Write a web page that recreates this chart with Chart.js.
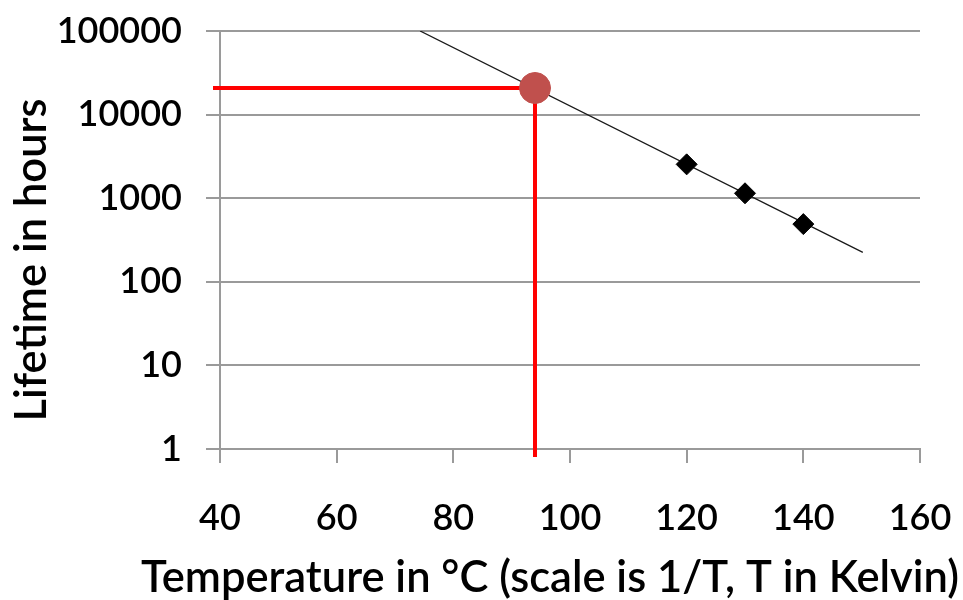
<!DOCTYPE html>
<html>
<head>
<meta charset="utf-8">
<script src="https://cdn.jsdelivr.net/npm/chart.js@4"></script>
<style>
  html, body { margin: 0; padding: 0; background: #fff; }
  #wrap { width: 963px; height: 600px; }
</style>
</head>
<body>
<div id="wrap"><canvas id="lifeChart" width="963" height="600"></canvas></div>
<script>
// ---- data ----
const tempTicks = [40, 60, 80, 100, 120, 140, 160];
const lifeTicks = [1, 10, 100, 1000, 10000, 100000];

// measured points (°C, hours)
const testTemps = [120, 130, 140];
const testHours = [2540, 1145, 490];

// fitted Arrhenius line, end points
const fitTemps = [74.3, 150.2];
const fitHours = [100000, 225];

// operating point and the red guide lines to the axes
const opTemp = [94];
const opHours = [20800];
const guideLeftTemp = 38.8;
const guideBottomHours = 0.8;

const xTitle = 'Temperature in °C (scale is 1/T, T in Kelvin)';
const yTitle = 'Lifetime in hours';

const FONT = 'Lato, "Open Sans", sans-serif';
const WEIGHT = '600';
const GRID = '#9a9a9a';

const toXY = (xs, ys) => xs.map((x, i) => ({ x: x, y: ys[i] }));

// stop the scales from pushing the plot area in for their labels
const noScalePad = s => {
    s.paddingTop = 0;
    s.paddingBottom = 0;
    s.paddingLeft = 0;
    s.paddingRight = 0;
};

// axis titles drawn by hand so they sit where the original has them
const axisTitles = {
    id: 'axisTitles',
    afterDraw(chart) {
        const ctx = chart.ctx;
        const a = chart.chartArea;
        ctx.save();
        ctx.fillStyle = '#000';
        ctx.font = WEIGHT + ' 43.5px ' + FONT;
        ctx.textAlign = 'center';
        ctx.textBaseline = 'middle';
        ctx.fillText(xTitle, (a.left + a.right) / 2 - 20, 578);
        ctx.translate(32, (a.top + a.bottom) / 2 + 20);
        ctx.rotate(-Math.PI / 2);
        ctx.fillText(yTitle, 0, 0);
        ctx.restore();
    }
};

new Chart(document.getElementById('lifeChart'), {
    type: 'scatter',
    data: {
        datasets: [
            {
                // operating point
                data: toXY(opTemp, opHours),
                backgroundColor: '#c0504d',
                borderColor: '#c0504d',
                pointRadius: 15.5,
                pointHoverRadius: 15.5,
                order: 1
            },
            {
                // test results
                data: toXY(testTemps, testHours),
                pointStyle: 'rectRot',
                backgroundColor: '#000',
                borderColor: '#000',
                pointRadius: 10.5,
                pointHoverRadius: 10.5,
                order: 2
            },
            {
                data: toXY(fitTemps, fitHours),
                showLine: true,
                borderColor: '#1a1a1a',
                borderWidth: 1.3,
                pointRadius: 0,
                order: 3
            },
            {
                data: [{ x: guideLeftTemp, y: opHours[0] }, { x: opTemp[0], y: opHours[0] }],
                showLine: true,
                borderColor: '#ff0000',
                borderWidth: 4,
                pointRadius: 0,
                clip: false,
                order: 4
            },
            {
                data: [{ x: opTemp[0], y: opHours[0] }, { x: opTemp[0], y: guideBottomHours }],
                showLine: true,
                borderColor: '#ff0000',
                borderWidth: 4,
                pointRadius: 0,
                clip: false,
                order: 4
            }
        ]
    },
    options: {
        responsive: false,
        animation: false,
        events: [],
        layout: {
            padding: { top: 31, right: 43, left: 0, bottom: 0 }
        },
        plugins: {
            legend: { display: false },
            tooltip: { enabled: false }
        },
        scales: {
            x: {
                type: 'linear',
                min: 40,
                max: 160,
                afterBuildTicks: s => { s.ticks = tempTicks.map(v => ({ value: v })); },
                afterFit: s => { s.height = 151; noScalePad(s); },
                grid: {
                    drawOnChartArea: false,
                    drawTicks: true,
                    tickLength: 14,
                    color: GRID,
                    lineWidth: 2
                },
                border: { color: GRID, width: 2 },
                ticks: {
                    color: '#000',
                    padding: 34,
                    font: { family: FONT, size: 36, weight: WEIGHT },
                    maxRotation: 0
                }
            },
            y: {
                type: 'logarithmic',
                min: 1,
                max: 100000,
                afterBuildTicks: s => { s.ticks = lifeTicks.map(v => ({ value: v })); },
                afterFit: s => { s.width = 220; noScalePad(s); },
                grid: {
                    tickLength: 14,
                    color: GRID,
                    lineWidth: 2
                },
                border: { color: GRID, width: 2 },
                ticks: {
                    color: '#000',
                    padding: 24,
                    font: { family: FONT, size: 36, weight: WEIGHT },
                    callback: v => String(v)
                }
            }
        }
    },
    plugins: [axisTitles]
});
</script>
</body>
</html>
